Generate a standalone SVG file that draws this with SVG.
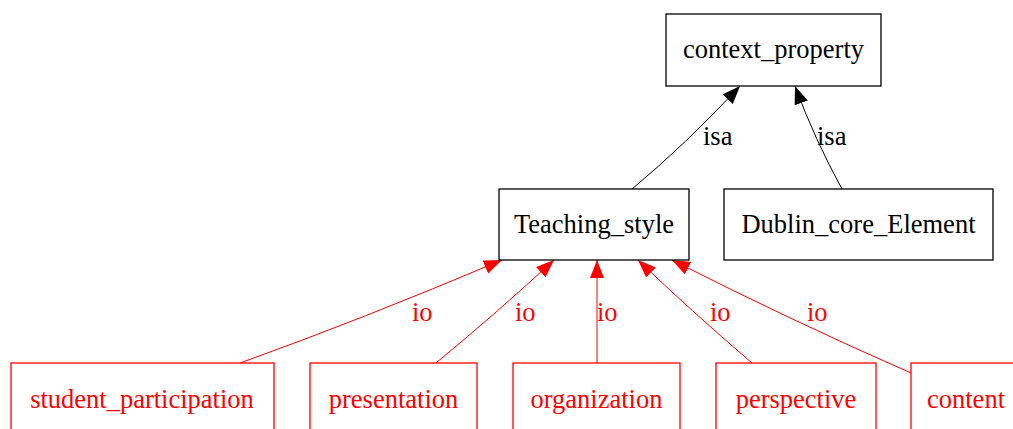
<svg xmlns="http://www.w3.org/2000/svg" width="1013" height="429" viewBox="0 0 1013 429">
  <style>
    .box { fill: #ffffff; stroke-width: 1.3; }
    .blk { stroke: #000000; }
    .red { stroke: #ff0000; }
    text { font-family: "Liberation Serif", "Times New Roman", serif; font-size: 26.5px; text-anchor: middle; }
    .tb { fill: #000000; }
    .tr { fill: #ff0000; }
    .lbl { text-anchor: start; }
    .edge { fill: none; stroke-width: 1; }
  </style>
  <defs>
    <marker id="arrowBlack" markerUnits="userSpaceOnUse" markerWidth="19" markerHeight="15" refX="18" refY="7" orient="auto">
      <path d="M0,0 L18,7 L0,14 z" fill="#000000"/>
    </marker>
    <marker id="arrowRed" markerUnits="userSpaceOnUse" markerWidth="19" markerHeight="15" refX="18" refY="7" orient="auto">
      <path d="M0,0 L18,7 L0,14 z" fill="#ff0000"/>
    </marker>
  </defs>

  <!-- connectors -->
  <g id="connectors">
    <path class="edge blk" d="M632,189 Q685,145 740,86" stroke="#000000" marker-end="url(#arrowBlack)"/>
    <text class="tb lbl" x="703" y="145">isa</text>
    <path class="edge blk" d="M842,189 Q815,140 795,86" stroke="#000000" marker-end="url(#arrowBlack)"/>
    <text class="tb lbl" x="817" y="145">isa</text>

    <path class="edge red" d="M240,363 Q360,320 502,260" stroke="#ff0000" marker-end="url(#arrowRed)"/>
    <text class="tr lbl" x="412" y="321">io</text>
    <path class="edge red" d="M436,363 Q500,310 554,260" stroke="#ff0000" marker-end="url(#arrowRed)"/>
    <text class="tr lbl" x="515" y="321">io</text>
    <path class="edge red" d="M597,363 L597,260" stroke="#ff0000" marker-end="url(#arrowRed)"/>
    <text class="tr lbl" x="597" y="321">io</text>
    <path class="edge red" d="M752,363 Q690,310 638,260" stroke="#ff0000" marker-end="url(#arrowRed)"/>
    <text class="tr lbl" x="710" y="321">io</text>
    <path class="edge red" d="M911,373 Q790,320 672,260" stroke="#ff0000" marker-end="url(#arrowRed)"/>
    <text class="tr lbl" x="807" y="321">io</text>
  </g>

  <!-- nodes -->
  <g id="context_property">
    <rect class="box blk" x="666" y="14" width="215" height="72"/>
    <text class="tb" x="773.5" y="58">context_property</text>
  </g>
  <g id="Teaching_style">
    <rect class="box blk" x="499" y="189" width="190" height="71"/>
    <text class="tb" x="594" y="233">Teaching_style</text>
  </g>
  <g id="Dublin_core_Element">
    <rect class="box blk" x="724" y="189" width="269" height="71"/>
    <text class="tb" x="858.5" y="233">Dublin_core_Element</text>
  </g>
  <g id="student_participation">
    <rect class="box red" x="11" y="363" width="263" height="72"/>
    <text class="tr" x="142" y="408">student_participation</text>
  </g>
  <g id="presentation">
    <rect class="box red" x="310" y="363" width="167" height="72"/>
    <text class="tr" x="393.5" y="408">presentation</text>
  </g>
  <g id="organization">
    <rect class="box red" x="513" y="363" width="167" height="72"/>
    <text class="tr" x="596.5" y="408">organization</text>
  </g>
  <g id="perspective">
    <rect class="box red" x="716" y="363" width="160" height="72"/>
    <text class="tr" x="796" y="408">perspective</text>
  </g>
  <g id="content">
    <rect class="box red" x="911" y="363" width="130" height="72"/>
    <text class="tr" x="966" y="408">content</text>
  </g>
</svg>
